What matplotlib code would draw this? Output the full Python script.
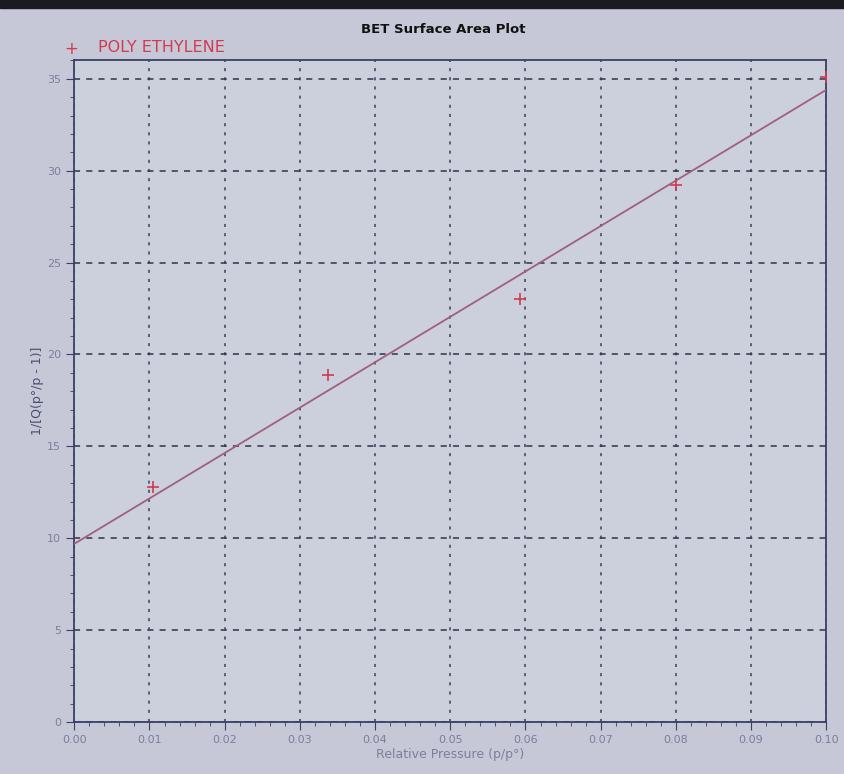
import matplotlib.pyplot as plt
from matplotlib.ticker import MultipleLocator

# BET points
rel_pressure = [0.0105, 0.0338, 0.0593, 0.0800, 0.1000]
bet_value = [12.8, 18.9, 23.0, 29.2, 35.1]

# fitted line end points (as drawn)
fit_x = [0.0, 0.1]
fit_y = [9.7, 34.4]

x_ticks = [0.00, 0.01, 0.02, 0.03, 0.04, 0.05, 0.06, 0.07, 0.08, 0.09, 0.10]
y_ticks = [0, 5, 10, 15, 20, 25, 30, 35]

bg = "#c6c8d7"
axis_col = "#3a3f66"
label_col = "#7a7f9c"

fig = plt.figure(figsize=(8.44, 7.74), dpi=100, facecolor=bg)
ax = fig.add_axes([0.088, 0.067, 0.891, 0.855])
ax.set_facecolor("#cccfdc")

ax.plot(fit_x, fit_y, color="#a0607e", lw=1.3, zorder=3)
ax.plot(rel_pressure, bet_value, "+", color="#d23a4e", ms=9, mew=1.2, zorder=4)

ax.set_xlim(0, 0.1)
ax.set_ylim(0, 36)
ax.set_xticks(x_ticks)
ax.set_xticklabels([f"{v:.2f}" for v in x_ticks])
ax.set_yticks(y_ticks)
ax.xaxis.set_minor_locator(MultipleLocator(0.002))
ax.yaxis.set_minor_locator(MultipleLocator(1))

# horizontal grid dashed, vertical grid more dotted like the screen
ax.yaxis.grid(True, which="major", color="#30354f", linestyle=(0, (4, 4)), lw=1.1)
ax.xaxis.grid(True, which="major", color="#3a3f5c", linestyle=(0, (2, 4)), lw=1.1)
ax.tick_params(which="major", length=6, color=axis_col, labelcolor=label_col, labelsize=8)
ax.tick_params(which="minor", length=3, color=axis_col)
for s in ax.spines.values():
    s.set_color(axis_col)
    s.set_linewidth(1.3)

ax.set_xlabel("Relative Pressure (p/p°)", color=label_col, fontsize=9, labelpad=2)
ax.set_ylabel("1/[Q(p°/p - 1)]", color="#4a4f70", fontsize=9, labelpad=2)

fig.text(0.525, 0.962, "BET Surface Area Plot", ha="center", va="center",
         fontsize=9.5, fontweight="bold", color="#111111")
fig.text(0.084, 0.937, "+", ha="center", va="center", fontsize=12, color="#d23a4e")
fig.text(0.116, 0.938, "POLY ETHYLENE", ha="left", va="center", fontsize=11.5, color="#d23a4e")

# dark photo edge at the top
fig.patches.append(plt.Rectangle((0, 0.99), 1, 0.01, transform=fig.transFigure,
                                 color="#1a1a22", zorder=0))

fig.savefig("out.png", dpi=100, facecolor=bg)
